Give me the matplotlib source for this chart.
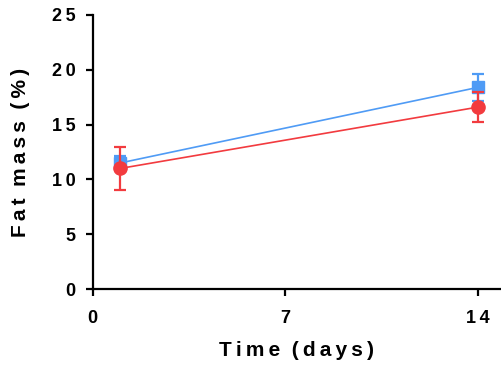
import matplotlib
matplotlib.use("Agg")
import matplotlib.pyplot as plt

# Fat mass over time for two groups (mean ± SD)
days = [1, 14]
blue_mean = [11.5, 18.4]
blue_err = [0.6, 1.25]
red_mean = [11.0, 16.6]
red_err = [1.95, 1.4]

x_ticks = [0, 7, 14]
y_ticks = [0, 5, 10, 15, 20, 25]

BLUE = "#4f9bf5"
RED = "#f23b3f"

plt.rcParams['font.family'] = ['Liberation Sans', 'DejaVu Sans']
plt.rcParams['font.weight'] = 'bold'


def spaced(s):
    return "\u2009".join(s).replace("\u2009 \u2009", "  ")


fig = plt.figure(figsize=(5.02, 3.65), dpi=100)
ax = fig.add_axes([0.1843, 0.208, 0.812, 0.751])

ax.errorbar(days, blue_mean, yerr=blue_err, color=BLUE, marker='s', markersize=8.5,
            linewidth=1.2, elinewidth=1.6, capsize=4.5, capthick=1.6, zorder=3)
ax.errorbar(days, red_mean, yerr=red_err, color=RED, marker='o', markersize=9.5,
            linewidth=1.2, elinewidth=1.6, capsize=4.5, capthick=1.6, zorder=4)

ax.set_xlim(0, 14.8)
ax.set_ylim(0, 25)
ax.set_xticks(x_ticks)
ax.set_yticks(y_ticks)
ax.set_xticklabels([spaced(str(v)) for v in x_ticks])
ax.set_yticklabels([spaced(str(v)) for v in y_ticks])

for side in ('top', 'right'):
    ax.spines[side].set_visible(False)
for side in ('left', 'bottom'):
    ax.spines[side].set_linewidth(1.6)
ax.tick_params(axis='y', which='major', direction='out', length=5, width=1.6,
               labelsize=13, pad=7)
ax.tick_params(axis='x', which='major', direction='out', length=5, width=1.6,
               labelsize=13, pad=10)
for lbl in ax.get_xticklabels() + ax.get_yticklabels():
    lbl.set_fontweight('bold')

ax.set_xlabel(spaced("Time (days)"), fontsize=15, fontweight='bold', labelpad=10)
ax.set_ylabel(spaced("Fat mass (%)"), fontsize=15, fontweight='bold', labelpad=16)

fig.savefig("out.png", dpi=100)
